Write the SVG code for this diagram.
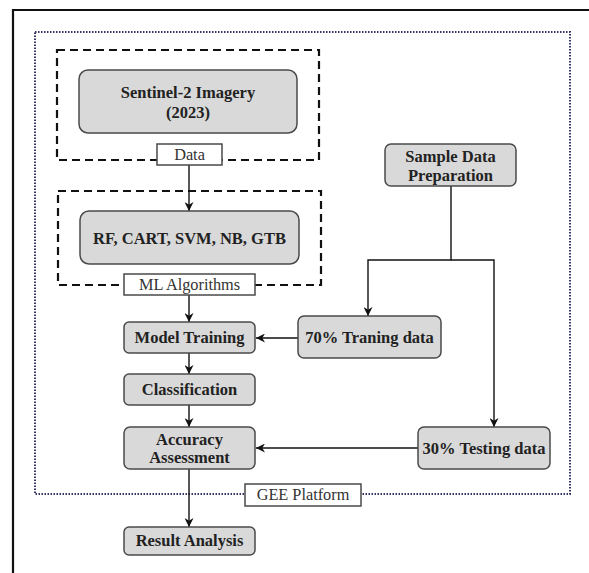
<svg xmlns="http://www.w3.org/2000/svg" width="589" height="573" viewBox="0 0 589 573">
<defs>
<marker id="ah" viewBox="0 0 10 10" refX="10" refY="5" markerWidth="9" markerHeight="9" markerUnits="userSpaceOnUse" orient="auto">
<path d="M0,0 L10,5 L0,10 L3,5 Z" fill="#111"/>
</marker>
<style>
.node{fill:#d9d9d9;stroke:#4a4a4a;stroke-width:1.5}
.lbl{fill:#fff;stroke:#4a4a4a;stroke-width:1.5}
text{font-family:'Liberation Serif','Times New Roman','DejaVu Serif',serif}
.t{font-weight:bold;font-size:16.5px;fill:#222;text-anchor:middle}
.tl{font-size:16.3px;fill:#333;text-anchor:middle}
.dash{fill:none;stroke:#111;stroke-width:2.2;stroke-dasharray:8,5}
.dot{fill:none;stroke:#333366;stroke-width:2;stroke-dasharray:1.5,1.5}
.c{fill:none;stroke:#111;stroke-width:1.4}
</style>
</defs>
<rect width="589" height="573" fill="#fff"/>
<g id="frame">
<path d="M13,573 V10 H589" fill="none" stroke="#111" stroke-width="2.2"/>
</g>
<g id="gee-frame">
<rect class="dot" x="35" y="32" width="535" height="462"/>
</g>
<g id="data-group">
<rect class="dash" x="57" y="50" width="262" height="110"/>
</g>
<g id="ml-group">
<rect class="dash" x="58" y="191" width="263" height="94"/>
</g>
<g id="connectors">
<line class="c" x1="189" y1="165" x2="189" y2="211" marker-end="url(#ah)"/>
<line class="c" x1="189" y1="295" x2="189" y2="322" marker-end="url(#ah)"/>
<line class="c" x1="189" y1="353" x2="189" y2="374" marker-end="url(#ah)"/>
<line class="c" x1="189" y1="405" x2="189" y2="427" marker-end="url(#ah)"/>
<line class="c" x1="189" y1="469" x2="189" y2="527" marker-end="url(#ah)"/>
<path class="c" d="M451,186 V260 H368 V316" marker-end="url(#ah)"/>
<path class="c" d="M451,260 H494 V427" marker-end="url(#ah)"/>
<line class="c" x1="298" y1="338" x2="256" y2="338" marker-end="url(#ah)"/>
<line class="c" x1="418" y1="448" x2="256" y2="448" marker-end="url(#ah)"/>
</g>
<g id="sentinel">
<rect class="node" x="79" y="70" width="218" height="63" rx="9"/>
<text class="t" x="188" y="98">Sentinel-2 Imagery</text>
<text class="t" x="188" y="118">(2023)</text>
</g>
<g id="data-label">
<rect class="lbl" x="157" y="144" width="65" height="21"/>
<text class="tl" x="189.5" y="160">Data</text>
</g>
<g id="algorithms">
<rect class="node" x="80" y="211" width="219" height="53" rx="9"/>
<text class="t" x="189.5" y="244">RF, CART, SVM, NB, GTB</text>
</g>
<g id="ml-label">
<rect class="lbl" x="124" y="274" width="131" height="21"/>
<text class="tl" x="189.5" y="290">ML Algorithms</text>
</g>
<g id="model-training">
<rect class="node" x="124" y="322" width="131" height="31" rx="5"/>
<text class="t" x="189.5" y="343">Model Training</text>
</g>
<g id="classification">
<rect class="node" x="124" y="374" width="131" height="31" rx="5"/>
<text class="t" x="189.5" y="395">Classification</text>
</g>
<g id="accuracy">
<rect class="node" x="124" y="427" width="131" height="42" rx="6"/>
<text class="t" x="189.5" y="445">Accuracy</text>
<text class="t" x="189.5" y="463">Assessment</text>
</g>
<g id="result">
<rect class="node" x="124" y="527" width="131" height="28" rx="5"/>
<text class="t" x="189.5" y="546">Result Analysis</text>
</g>
<g id="gee-label">
<rect class="lbl" x="245" y="484" width="116" height="22"/>
<text class="tl" x="303" y="500">GEE Platform</text>
</g>
<g id="sample">
<rect class="node" x="385" y="144" width="131" height="42" rx="6"/>
<text class="t" x="450.5" y="162">Sample Data</text>
<text class="t" x="450.5" y="181">Preparation</text>
</g>
<g id="training-data">
<rect class="node" x="298" y="316" width="143" height="42" rx="6"/>
<text class="t" x="369.5" y="343">70% Traning data</text>
</g>
<g id="testing-data">
<rect class="node" x="418" y="427" width="132" height="42" rx="6"/>
<text class="t" x="484" y="454">30% Testing data</text>
</g>
</svg>
